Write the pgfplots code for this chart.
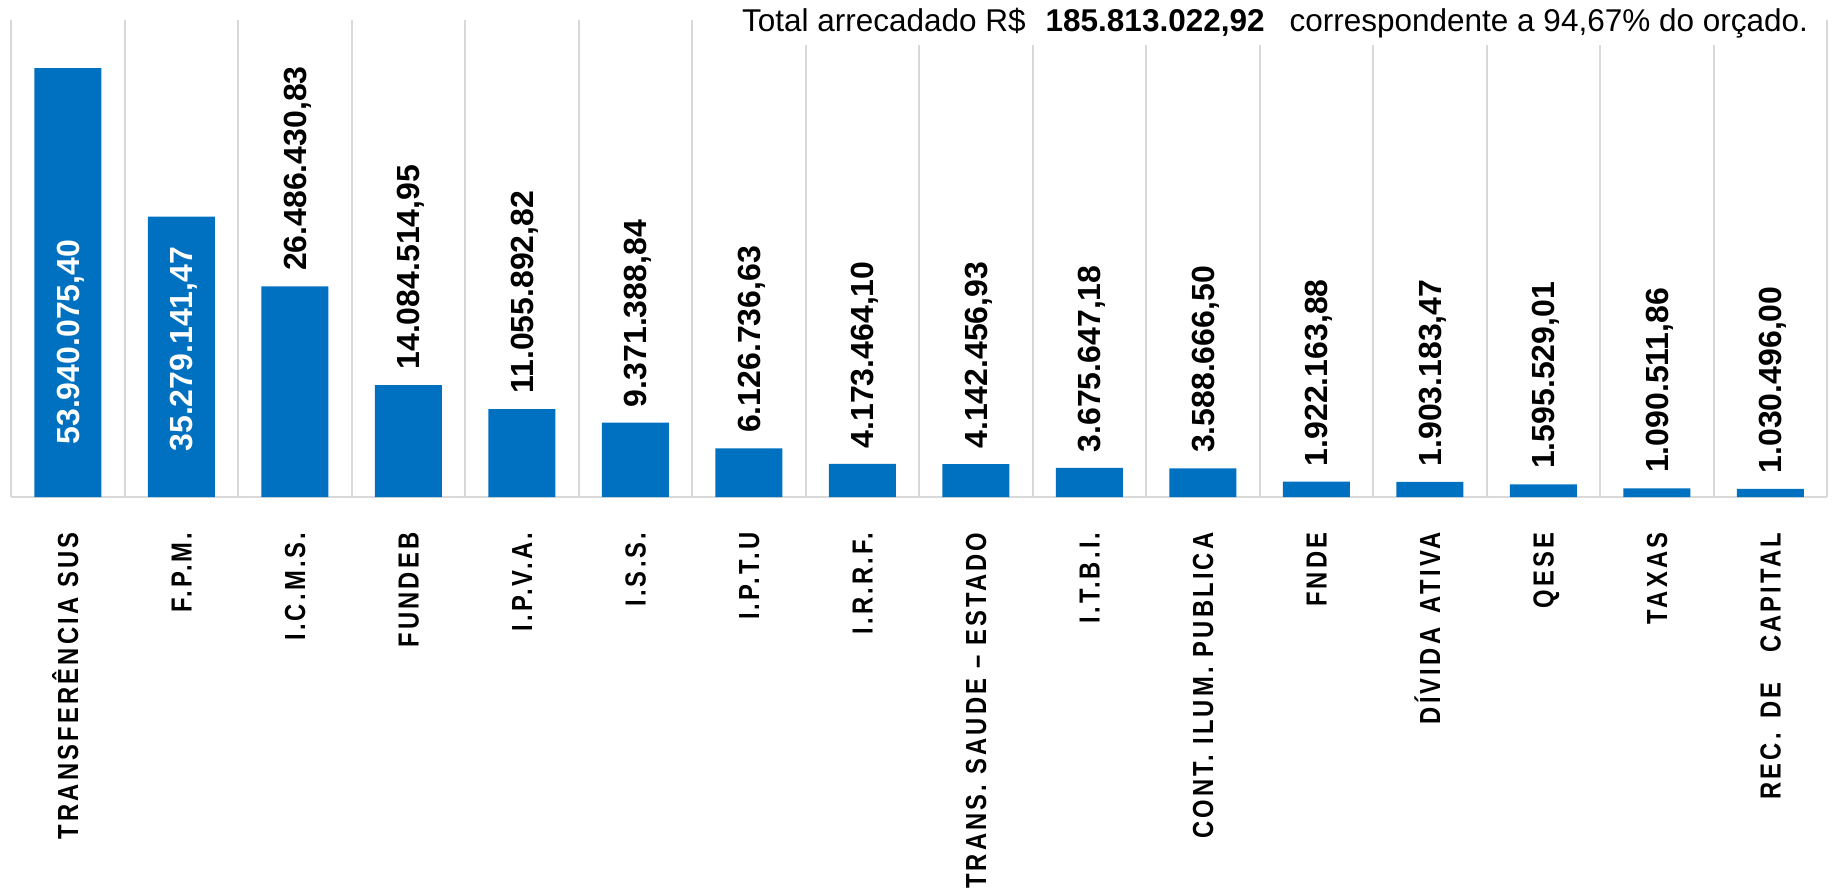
\documentclass[border=0pt]{standalone}
\usepackage{fontspec}
\setmainfont{Liberation Sans}
\newfontfamily\catfont[FakeStretch=0.82,LetterSpace=11]{Liberation Sans}
\usepackage{pgfplots}
\pgfplotsset{compat=1.18}
\definecolor{barblue}{HTML}{0070C0}
\definecolor{gridgray}{HTML}{D9D9D9}

\begin{document}
\begin{tikzpicture}[x=1pt,y=1pt]
\useasboundingbox (-4.4,-158) rectangle (729.6,198.8);
\begin{axis}[
    at={(0,0)}, anchor=south west,
    scale only axis, width=726.4pt, height=190.8pt,
    ybar, bar width=26.8pt, bar shift=0pt,
    xmin=-0.5, xmax=15.5, ymin=0, ymax=60e6,
    enlargelimits=false,
    scaled y ticks=false,
    axis line style={draw=none},
    major tick length=0pt, minor tick length=0pt,
    xtick={0,...,15},
    xticklabels={TRANSFERÊNCIA SUS, F.P.M., I.C.M.S., FUNDEB, I.P.V.A., I.S.S., I.P.T.U, I.R.R.F., TRANS. SAUDE – ESTADO, I.T.B.I., CONT. ILUM. PUBLICA, FNDE, DÍVIDA\, ATIVA, QESE, TAXAS, REC.\, DE\, \, CAPITAL},
    minor xtick={-0.5,0.5,...,15.5},
    xminorgrids, ymajorgrids,
    ytick={0}, yticklabels={},
    grid style={draw=gridgray, line width=0.8pt},
    xticklabel style={rotate=90, anchor=east, inner sep=0pt,
        font=\catfont\bfseries\fontsize{11.6}{12}\selectfont,
        text height=8.3pt, text depth=0pt},
    xticklabel shift=14pt,
    point meta=explicit symbolic,
    every node near coord/.append style={rotate=90, anchor=west,
        font=\bfseries\fontsize{12.8}{13}\selectfont,
        inner xsep=6pt, inner ysep=0pt, text height=9.2pt, text depth=0pt},
]
% the two largest bars carry their labels inside
\addplot[fill=barblue, draw=none] coordinates {
    (0,53940075.40) (1,35279141.47)};
\addplot[fill=barblue, draw=none, nodes near coords] coordinates {
    (2,26486430.83) [26.486.430,83]
    (3,14084514.95) [14.084.514,95]
    (4,11055892.82) [11.055.892,82]
    (5,9371388.84)  [9.371.388,84]
    (6,6126736.63)  [6.126.736,63]
    (7,4173464.10)  [4.173.464,10]
    (8,4142456.93)  [4.142.456,93]
    (9,3675647.18)  [3.675.647,18]
    (10,3588666.50) [3.588.666,50]
    (11,1922163.88) [1.922.163,88]
    (12,1903183.47) [1.903.183,47]
    (13,1595529.01) [1.595.529,01]
    (14,1090511.86) [1.090.511,86]
    (15,1030496.00) [1.030.496,00]
};
\node[rotate=90, anchor=west, text=white, inner sep=0pt, text height=9.2pt, text depth=0pt,
      font=\bfseries\fontsize{12.8}{13}\selectfont] at (axis cs:0,6.54e6) {53.940.075,40};
\node[rotate=90, anchor=west, text=white, inner sep=0pt, text height=9.2pt, text depth=0pt,
      font=\bfseries\fontsize{12.8}{13}\selectfont] at (axis cs:1,5.66e6) {35.279.141,47};
\end{axis}
\node[anchor=base east, fill=white, inner xsep=2pt, inner ysep=3pt,
      font=\fontsize{12.6}{13}\selectfont] at (721,186.4)
    {Total arrecadado R\$\hspace{8pt}\textbf{185.813.022,92}\hspace{10pt}correspondente a 94,67\% do orçado.};
\end{tikzpicture}
\end{document}
